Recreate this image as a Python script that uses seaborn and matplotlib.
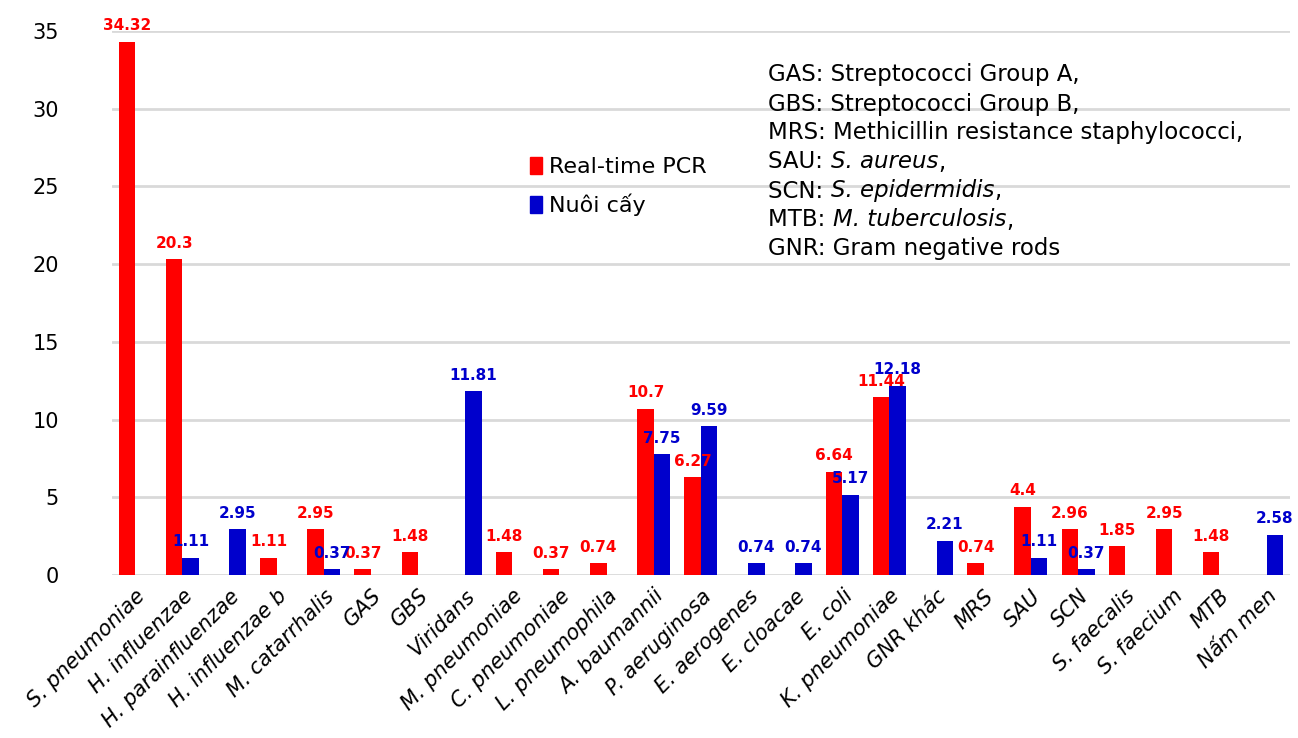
import seaborn as sns
import pandas as pd
import numpy as np
import matplotlib.pyplot as plt
from matplotlib.patches import Patch

categories = ['S. pneumoniae', 'H. influenzae', 'H. parainfluenzae', 'H. influenzae b',
              'M. catarrhalis', 'GAS', 'GBS', 'Viridans', 'M. pneumoniae', 'C. pneumoniae',
              'L. pneumophila', 'A. baumannii', 'P. aeruginosa', 'E. aerogenes', 'E. cloacae',
              'E. coli', 'K. pneumoniae', 'GNR khác', 'MRS', 'SAU', 'SCN', 'S. faecalis',
              'S. faecium', 'MTB', 'Nấm men']
pcr = [34.32, 20.3, 0, 1.11, 2.95, 0.37, 1.48, 0, 1.48, 0.37, 0.74, 10.7, 6.27, 0, 0,
       6.64, 11.44, 0, 0.74, 4.4, 2.96, 1.85, 2.95, 1.48, 0]
culture = [0, 1.11, 2.95, 0, 0.37, 0, 0, 11.81, 0, 0, 0, 7.75, 9.59, 0.74, 0.74,
           5.17, 12.18, 2.21, 0, 1.11, 0.37, 0, 0, 0, 2.58]
series = ['Real-time PCR', 'Nuôi cấy']
colors = ['#FF0000', '#0000CC']
# (normal part, italic part, trailing part)
notes = [('GAS: Streptococci Group A,', '', ''),
         ('GBS: Streptococci Group B,', '', ''),
         ('MRS: Methicillin resistance staphylococci,', '', ''),
         ('SAU: ', 'S. aureus', ','),
         ('SCN: ', 'S. epidermidis', ','),
         ('MTB: ', 'M. tuberculosis', ','),
         ('GNR: Gram negative rods', '', '')]

df = pd.DataFrame({
    'category': categories * 2,
    'value': pcr + culture,
    'series': [series[0]] * len(categories) + [series[1]] * len(categories),
})

sns.set_style('white')
plt.rcParams['font.family'] = ['DejaVu Sans']
plt.rcParams['text.color'] = 'black'
plt.rcParams['xtick.color'] = 'black'
plt.rcParams['ytick.color'] = 'black'

fig = plt.figure(figsize=(12.98, 7.38), dpi=100)
ax = fig.add_axes([0.086, 0.221, 0.908, 0.737])

sns.barplot(data=df, x='category', y='value', hue='series', order=categories,
            hue_order=series, palette=colors, width=0.7, saturation=1,
            edgecolor='none', ax=ax, legend=False)

for cont, col in zip(ax.containers, colors):
    labels = ['' if b.get_height() == 0 else f'{b.get_height():g}' for b in cont]
    ax.bar_label(cont, labels=labels, color=col, fontsize=11, fontweight='bold',
                 padding=6, clip_on=False)

ax.set_ylim(0, 35)
ax.set_xlim(-0.5, len(categories) - 0.5)
ax.set_yticks(np.arange(0, 36, 5))
ax.yaxis.grid(True, color='#D9D9D9', linewidth=2)
ax.set_axisbelow(True)
for s in ax.spines.values():
    s.set_visible(False)
ax.set_xlabel('')
ax.set_ylabel('')
ax.tick_params(axis='y', labelsize=15, pad=38, length=0)
ax.tick_params(axis='x', labelsize=15, pad=8, length=0)
plt.setp(ax.get_xticklabels(), rotation=45, ha='right', rotation_mode='anchor',
         style='italic')

handles = [Patch(color=c, label=s) for c, s in zip(colors, series)]
fig.legend(handles=handles, loc='upper left', bbox_to_anchor=(0.393, 0.815),
           frameon=False, fontsize=16, handlelength=0.55, handleheight=0.8,
           handletextpad=0.3, labelspacing=0.75)

for i, (plain, ital, tail) in enumerate(notes):
    t = fig.text(0.592, 1 - (75 + i * 29) / 738, plain, fontsize=16.5,
                 va='center', ha='left')
    if ital:
        a = ax.annotate(ital, xy=(1, 0), xycoords=t, fontsize=16.5, style='italic',
                        va='bottom', ha='left')
        ax.annotate(tail, xy=(1, 0), xycoords=a, fontsize=16.5, va='bottom', ha='left')

fig.savefig('out.png', dpi=100)
